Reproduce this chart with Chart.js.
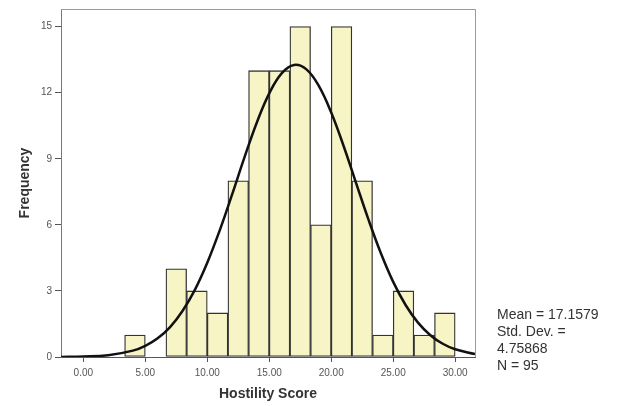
<!DOCTYPE html>
<html>
<head>
<meta charset="utf-8">
<script src="https://cdn.jsdelivr.net/npm/chart.js@4"></script>
<style>
  body { margin: 0; background: #fff; }
  #wrap { position: relative; width: 622px; height: 406px; }
  #stats {
    position: absolute; left: 497px; top: 306px;
    font: 14px "Liberation Sans", Arial, sans-serif; color: #333; line-height: 17px;
  }
</style>
</head>
<body>
<div id="wrap">
  <canvas id="hist" width="622" height="406"></canvas>
  <div id="stats">Mean = 17.1579<br>Std. Dev. =<br>4.75868<br>N = 95</div>
</div>
<script>
// histogram bins (centres), width 5/3
const binCenters = [4.1667, 5.8333, 7.5, 9.1667, 10.8333, 12.5, 14.1667, 15.8333,
                    17.5, 19.1667, 20.8333, 22.5, 24.1667, 25.8333, 27.5, 29.1667];
const counts = [1, 0, 4, 3, 2, 8, 13, 13, 15, 6, 15, 8, 1, 3, 1, 2];

// normal curve
const curveX = [-1.8, 0, 2, 4, 5, 6, 7, 8, 9, 10, 11, 12, 13, 14, 15, 16, 17, 18,
                19, 20, 21, 22, 23, 24, 25, 26, 27, 28, 29, 30, 31.6];
const curveY = [0.005, 0.02, 0.08, 0.29, 0.51, 0.85, 1.36, 2.09, 3.05, 4.28, 5.74, 7.37,
                9.06, 10.65, 11.97, 12.88, 13.26, 13.06, 12.31, 11.10, 9.58, 7.91, 6.25,
                4.72, 3.41, 2.36, 1.56, 0.99, 0.60, 0.35, 0.13];

const yTicks = [0, 3, 6, 9, 12, 15];
const xTicks = [0, 5, 10, 15, 20, 25, 30];

const frame = {
  id: 'frame',
  afterDraw(chart) {
    const a = chart.chartArea, c = chart.ctx;
    c.save();
    c.strokeStyle = '#999';
    c.lineWidth = 1;
    c.beginPath();
    c.moveTo(a.left, a.top + 0.5);
    c.lineTo(a.right + 0.5, a.top + 0.5);
    c.lineTo(a.right + 0.5, a.bottom);
    c.stroke();
    c.restore();
  }
};

new Chart(document.getElementById('hist'), {
  data: {
    datasets: [{
      type: 'line',
      data: curveX.map((x, i) => ({x: x, y: curveY[i]})),
      borderColor: '#111',
      borderWidth: 2.5,
      pointRadius: 0,
      tension: 0.4,
      order: 0
    }, {
      type: 'bar',
      data: binCenters.map((x, i) => ({x: x, y: counts[i]})),
      backgroundColor: '#f7f5c6',
      borderColor: '#333',
      borderWidth: 1.3,
      borderSkipped: false,
      barPercentage: 1,
      categoryPercentage: 1,
      order: 1
    }]
  },
  options: {
    responsive: false,
    animation: false,
    layout: { padding: { top: 7, right: 147, left: 0, bottom: 0 } },
    plugins: { legend: { display: false }, tooltip: { enabled: false } },
    scales: {
      x: {
        type: 'linear',
        min: -1.8,
        max: 31.6,
        offset: false,
        afterFit(s) { s.height = 49; },
        afterBuildTicks(s) { s.ticks = xTicks.map(v => ({value: v})); },
        ticks: {
          includeBounds: false,
          padding: 5,
          color: '#555',
          font: { family: 'Liberation Sans', size: 10 },
          callback: v => v.toFixed(2)
        },
        grid: { drawOnChartArea: false, offset: false, tickLength: 5, color: '#555' },
        border: { color: '#555', width: 1 },
        title: {
          display: true, text: 'Hostility Score', color: '#333',
          padding: { top: 4, bottom: 3 },
          font: { family: 'Liberation Sans', size: 14, weight: 'bold' }
        }
      },
      y: {
        min: 0,
        max: 15.8,
        afterFit(s) { s.width = 61; },
        afterBuildTicks(s) { s.ticks = yTicks.map(v => ({value: v})); },
        ticks: {
          includeBounds: false,
          padding: 3,
          color: '#555',
          font: { family: 'Liberation Sans', size: 10 }
        },
        grid: { drawOnChartArea: false, tickLength: 6, color: '#555' },
        border: { color: '#777', width: 1 },
        title: {
          display: true, text: 'Frequency', color: '#333',
          padding: { top: 17, bottom: 4 },
          font: { family: 'Liberation Sans', size: 14, weight: 'bold' }
        }
      }
    }
  },
  plugins: [frame]
});
</script>
</body>
</html>
